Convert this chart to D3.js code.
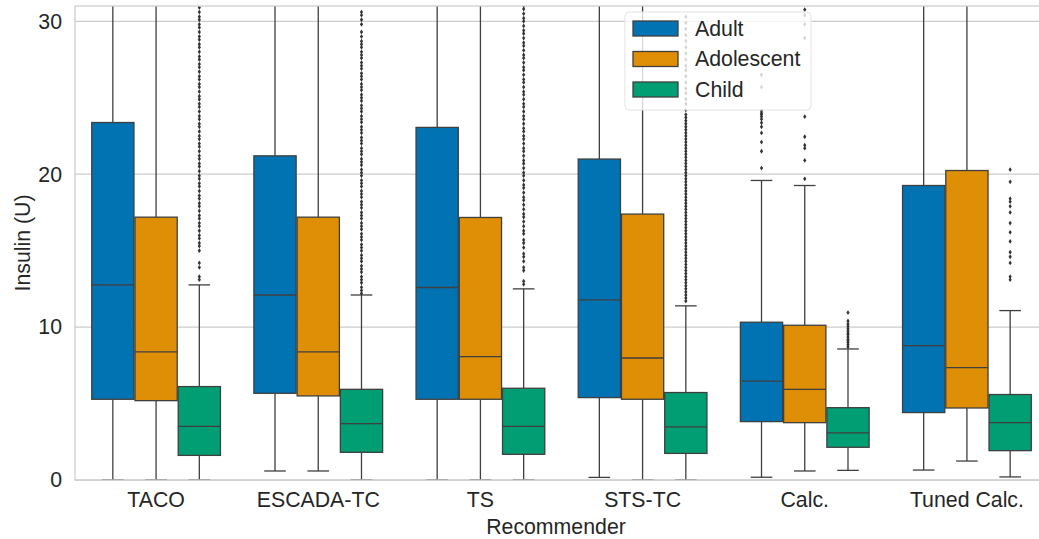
<!DOCTYPE html>
<html>
<head>
<meta charset="utf-8">
<script src="https://cdn.jsdelivr.net/npm/d3@7"></script>
<style>
  html, body { margin: 0; padding: 0; background: #fff; overflow: hidden; }
  text { font-family: "Liberation Sans", Arial, sans-serif; fill: #262626; }
</style>
</head>
<body>
<div id="main-container"></div>
<script>
const WIDTH = 1039;
const HEIGHT = 539;
const PLOT_LEFT = 75;
const PLOT_RIGHT = 1048;
const PLOT_TOP = 6;
const PLOT_BOTTOM = 480;
const FONT_SIZE = 21.3;
const LINE_COLOR = '#3f3f3f';
const GRID_COLOR = '#cccccc';

const CATEGORIES = ['TACO', 'ESCADA-TC', 'TS', 'STS-TC', 'Calc.', 'Tuned Calc.'];
const GROUPS = ['Adult', 'Adolescent', 'Child'];
const COLORS = ['#0173b2', '#de8f05', '#029e73'];
const Y_TICKS = [0, 10, 20, 30];

// [lower whisker, q1, median, q3, upper whisker] per recommender
const ADULT_STATS = [
  [0, 5.28, 12.76, 23.38, 36],
  [0.59, 5.67, 12.1, 21.2, 36],
  [0, 5.28, 12.59, 23.06, 36],
  [0.17, 5.39, 11.78, 20.99, 36],
  [0.18, 3.82, 6.46, 10.32, 19.59],
  [0.65, 4.41, 8.79, 19.26, 36]
];
const ADOLESCENT_STATS = [
  [0, 5.19, 8.38, 17.19, 36],
  [0.59, 5.5, 8.38, 17.19, 36],
  [0, 5.28, 8.07, 17.17, 36],
  [0, 5.28, 7.98, 17.39, 36],
  [0.59, 3.75, 5.93, 10.12, 19.26],
  [1.24, 4.71, 7.35, 20.24, 36]
];
const CHILD_STATS = [
  [0, 1.61, 3.51, 6.11, 12.76],
  [0, 1.81, 3.69, 5.93, 12.1],
  [0, 1.68, 3.51, 6.0, 12.5],
  [0, 1.74, 3.47, 5.72, 11.39],
  [0.63, 2.14, 3.08, 4.73, 8.57],
  [0.2, 1.92, 3.75, 5.59, 11.08]
];

const ADULT_OUTLIERS = [
  [], [], [], [],
  [26.5, 25.7, 24.15, 24.0, 23.9, 23.76, 23.6, 23.36, 23.1, 22.7, 22.1, 21.5, 20.4],
  []
];
const ADOLESCENT_OUTLIERS = [
  [], [], [], [],
  [30.76, 30.4, 29.8, 28.9, 23.76, 22.45, 21.9, 21.7, 20.9, 19.7],
  []
];
const CHILD_OUTLIERS = [
  [13.1, 13.3, 13.9, 14.2, 15.0, 15.3, 15.5, 15.8, 16.0, 16.3, 16.6, 16.8, 17.1, 17.3, 17.6, 17.9,
   18.1, 18.4, 18.6, 18.9, 19.2, 19.4, 19.7, 19.9, 20.2, 20.5, 20.7, 21.0, 21.2, 21.5, 21.8, 22.0,
   22.3, 22.5, 22.8, 23.1, 23.3, 23.6, 23.8, 24.1, 24.4, 24.6, 24.9, 25.1, 25.4, 25.7, 25.9, 26.2,
   26.4, 26.7, 27.0, 27.2, 27.5, 27.7, 28.0, 28.3, 28.5, 28.8, 29.0, 29.3, 29.6, 29.8, 30.1, 30.3,
   30.6, 30.9],
  [12.2, 12.4, 12.6, 12.9, 13.1, 13.3, 13.6, 13.8, 14.0, 14.3, 14.5, 14.7, 15.0, 15.2, 15.4, 15.7,
   15.9, 16.1, 16.4, 16.6, 16.8, 17.1, 17.3, 17.5, 17.8, 18.0, 18.2, 18.5, 18.7, 18.9, 19.2, 19.4,
   19.6, 19.9, 20.1, 20.3, 20.6, 20.8, 21.0, 21.3, 21.5, 21.7, 22.0, 22.2, 22.4, 22.7, 22.9, 23.1,
   23.4, 23.6, 23.8, 24.1, 24.3, 24.5, 24.8, 25.0, 25.2, 25.5, 25.7, 25.9, 26.2, 26.4, 26.6, 26.9,
   27.1, 27.3, 27.6, 27.8, 28.0, 28.3, 28.5, 28.7, 29.0, 29.3, 29.8, 30.1, 30.4, 30.6],
  [12.8, 13.0, 13.7, 13.9, 14.3, 14.6, 14.8, 15.2, 15.5, 15.7, 16.1, 16.3, 16.6, 16.9, 17.2, 17.4,
   17.7, 18.0, 18.3, 18.5, 18.8, 19.1, 19.3, 19.6, 19.9, 20.1, 20.4, 20.7, 20.9, 21.2, 21.5, 21.7,
   22.0, 22.3, 22.5, 22.8, 23.0, 23.3, 23.6, 23.8, 24.1, 24.4, 24.6, 24.9, 25.2, 25.4, 25.7, 26.0,
   26.2, 26.5, 26.8, 27.0, 27.3, 27.6, 27.8, 28.1, 28.4, 28.6, 28.9, 29.2, 29.4, 29.7, 30.0, 30.2,
   30.5, 30.8, 31.0],
  [11.7, 11.9, 12.1, 12.3, 12.5, 12.7, 12.9, 13.1, 13.3, 13.5, 13.7, 13.9, 14.1, 14.3, 14.5, 14.7,
   14.9, 15.1, 15.3, 15.5, 15.7, 15.9, 16.1, 16.3, 16.5, 16.7, 16.9, 17.1, 17.3, 17.5, 17.7, 17.9,
   18.1, 18.3, 18.5, 18.7, 18.9, 19.1, 19.3, 19.5, 19.7, 19.9, 20.1, 20.3, 20.5, 20.7, 20.9, 21.1,
   21.3, 21.5, 21.7, 21.9, 22.1, 22.3, 22.5, 22.7, 22.9, 23.1, 23.3, 23.5, 23.7, 23.9, 24.2, 24.6,
   24.9, 25.3, 25.6, 26.0, 26.4, 26.8, 27.1, 27.5, 27.9, 28.3, 28.7, 29.1, 29.5, 29.9, 30.3],
  [8.7, 8.85, 9.0, 9.1, 9.2, 9.35, 9.5, 9.6, 9.75, 9.9, 10.05, 10.2, 10.4, 10.95],
  [20.3, 19.5, 18.4, 18.2, 17.9, 17.5, 16.8, 16.2, 15.6, 14.9, 14.6, 14.2, 13.3, 13.1]
];

const STATS = [ADULT_STATS, ADOLESCENT_STATS, CHILD_STATS];
const OUTLIERS = [ADULT_OUTLIERS, ADOLESCENT_OUTLIERS, CHILD_OUTLIERS];

// flatten into one row per box
const BOXES = [];
GROUPS.forEach((g, gi) => {
  CATEGORIES.forEach((c, ci) => {
    const [lo, q1, med, q3, hi] = STATS[gi][ci];
    BOXES.push({ category: c, group: g, gi, lo, q1, med, q3, hi, outliers: OUTLIERS[gi][ci] });
  });
});

const X_SCALE = d3.scaleBand()
  .domain(CATEGORIES)
  .range([PLOT_LEFT, PLOT_RIGHT])
  .padding(0);

const HUE_SCALE = d3.scaleBand()
  .domain(GROUPS)
  .range([-X_SCALE.bandwidth() * 0.4, X_SCALE.bandwidth() * 0.4]);

const Y_SCALE = d3.scaleLinear()
  .domain([0, 31])
  .range([PLOT_BOTTOM, PLOT_TOP]);

const BOX_W = HUE_SCALE.bandwidth() - 1;
const CAP_W = HUE_SCALE.bandwidth() / 2;
const centerX = d => X_SCALE(d.category) + X_SCALE.bandwidth() / 2 + HUE_SCALE(d.group) + HUE_SCALE.bandwidth() / 2;

const SVG = d3.select('#main-container')
  .append('svg')
  .attr('width', WIDTH)
  .attr('height', HEIGHT);

SVG.append('clipPath')
  .attr('id', 'plot-clip')
  .append('rect')
  .attr('x', PLOT_LEFT)
  .attr('y', PLOT_TOP)
  .attr('width', PLOT_RIGHT - PLOT_LEFT)
  .attr('height', PLOT_BOTTOM - PLOT_TOP);

// grid
SVG.append('g')
  .selectAll('line')
  .data(Y_TICKS)
  .enter()
  .append('line')
  .attr('x1', PLOT_LEFT)
  .attr('x2', PLOT_RIGHT)
  .attr('y1', d => Y_SCALE(d))
  .attr('y2', d => Y_SCALE(d))
  .attr('stroke', GRID_COLOR)
  .attr('stroke-width', 1.25);

const PLOT = SVG.append('g').attr('clip-path', 'url(#plot-clip)');

const BOX_G = PLOT.selectAll('g.box')
  .data(BOXES)
  .enter()
  .append('g')
  .attr('class', 'box');

// whiskers
BOX_G.append('line')
  .attr('x1', centerX).attr('x2', centerX)
  .attr('y1', d => Y_SCALE(d.q3)).attr('y2', d => Y_SCALE(d.hi))
  .attr('stroke', LINE_COLOR).attr('stroke-width', 1.3);
BOX_G.append('line')
  .attr('x1', centerX).attr('x2', centerX)
  .attr('y1', d => Y_SCALE(d.q1)).attr('y2', d => Y_SCALE(d.lo))
  .attr('stroke', LINE_COLOR).attr('stroke-width', 1.3);

// caps
BOX_G.append('line')
  .attr('x1', d => centerX(d) - CAP_W / 2).attr('x2', d => centerX(d) + CAP_W / 2)
  .attr('y1', d => Y_SCALE(d.hi)).attr('y2', d => Y_SCALE(d.hi))
  .attr('stroke', LINE_COLOR).attr('stroke-width', 1.3);
BOX_G.append('line')
  .attr('x1', d => centerX(d) - CAP_W / 2).attr('x2', d => centerX(d) + CAP_W / 2)
  .attr('y1', d => Y_SCALE(d.lo)).attr('y2', d => Y_SCALE(d.lo))
  .attr('stroke', LINE_COLOR).attr('stroke-width', 1.3);

// boxes
BOX_G.append('rect')
  .attr('x', d => centerX(d) - BOX_W / 2)
  .attr('width', BOX_W)
  .attr('y', d => Y_SCALE(d.q3))
  .attr('height', d => Y_SCALE(d.q1) - Y_SCALE(d.q3))
  .attr('fill', d => COLORS[d.gi])
  .attr('stroke', LINE_COLOR)
  .attr('stroke-width', 1.3);

// medians
BOX_G.append('line')
  .attr('x1', d => centerX(d) - BOX_W / 2).attr('x2', d => centerX(d) + BOX_W / 2)
  .attr('y1', d => Y_SCALE(d.med)).attr('y2', d => Y_SCALE(d.med))
  .attr('stroke', LINE_COLOR).attr('stroke-width', 1.3);

// outliers (thin diamonds)
BOX_G.selectAll('path')
  .data(d => d.outliers.map(v => ({ x: centerX(d), v })))
  .enter()
  .append('path')
  .attr('d', 'M0,-2.4L1.6,0L0,2.4L-1.6,0Z')
  .attr('transform', p => `translate(${p.x},${Y_SCALE(p.v)})`)
  .attr('fill', '#333');

// spines
SVG.append('rect')
  .attr('x', PLOT_LEFT)
  .attr('y', PLOT_TOP)
  .attr('width', PLOT_RIGHT - PLOT_LEFT)
  .attr('height', PLOT_BOTTOM - PLOT_TOP)
  .attr('fill', 'none')
  .attr('stroke', GRID_COLOR)
  .attr('stroke-width', 1.25);

// y axis
const Y_AXIS = d3.axisLeft(Y_SCALE).tickValues(Y_TICKS).tickSize(0).tickPadding(13);
const Y_G = SVG.append('g')
  .attr('transform', `translate(${PLOT_LEFT}, 0)`)
  .call(Y_AXIS);
Y_G.select('.domain').remove();
Y_G.selectAll('text')
  .style('font-size', `${FONT_SIZE}px`)
  .style('font-family', '"Liberation Sans", Arial, sans-serif')
  .attr('fill', '#262626');

// x axis
const X_AXIS = d3.axisBottom(X_SCALE).tickSize(0).tickPadding(12);
const X_G = SVG.append('g')
  .attr('transform', `translate(0, ${PLOT_BOTTOM})`)
  .call(X_AXIS);
X_G.select('.domain').remove();
X_G.selectAll('text')
  .style('font-size', `${FONT_SIZE}px`)
  .style('font-family', '"Liberation Sans", Arial, sans-serif')
  .attr('fill', '#262626');

// axis titles
SVG.append('text')
  .attr('x', 556)
  .attr('y', 534)
  .attr('text-anchor', 'middle')
  .style('font-size', `${FONT_SIZE}px`)
  .text('Recommender');

SVG.append('text')
  .attr('transform', `translate(30, ${(PLOT_TOP + PLOT_BOTTOM) / 2}) rotate(-90)`)
  .attr('text-anchor', 'middle')
  .style('font-size', `${FONT_SIZE}px`)
  .text('Insulin (U)');

// legend
const LEGEND = SVG.append('g')
  .attr('transform', 'translate(625, 12)');

LEGEND.append('rect')
  .attr('width', 186)
  .attr('height', 98)
  .attr('rx', 4)
  .attr('fill', 'rgba(255,255,255,0.8)')
  .attr('stroke', '#e3e3e3')
  .attr('stroke-width', 1);

LEGEND.selectAll('rect.patch')
  .data(GROUPS)
  .enter()
  .append('rect')
  .attr('class', 'patch')
  .attr('x', 8)
  .attr('y', (_, i) => 9 + i * 30.5)
  .attr('width', 45)
  .attr('height', 15)
  .attr('fill', (_, i) => COLORS[i])
  .attr('stroke', LINE_COLOR)
  .attr('stroke-width', 1.3);

LEGEND.selectAll('text')
  .data(GROUPS)
  .enter()
  .append('text')
  .attr('x', 70)
  .attr('y', (_, i) => 16.5 + i * 30.5)
  .attr('dy', '0.35em')
  .style('font-size', `${FONT_SIZE}px`)
  .text(d => d);
</script>
</body>
</html>
